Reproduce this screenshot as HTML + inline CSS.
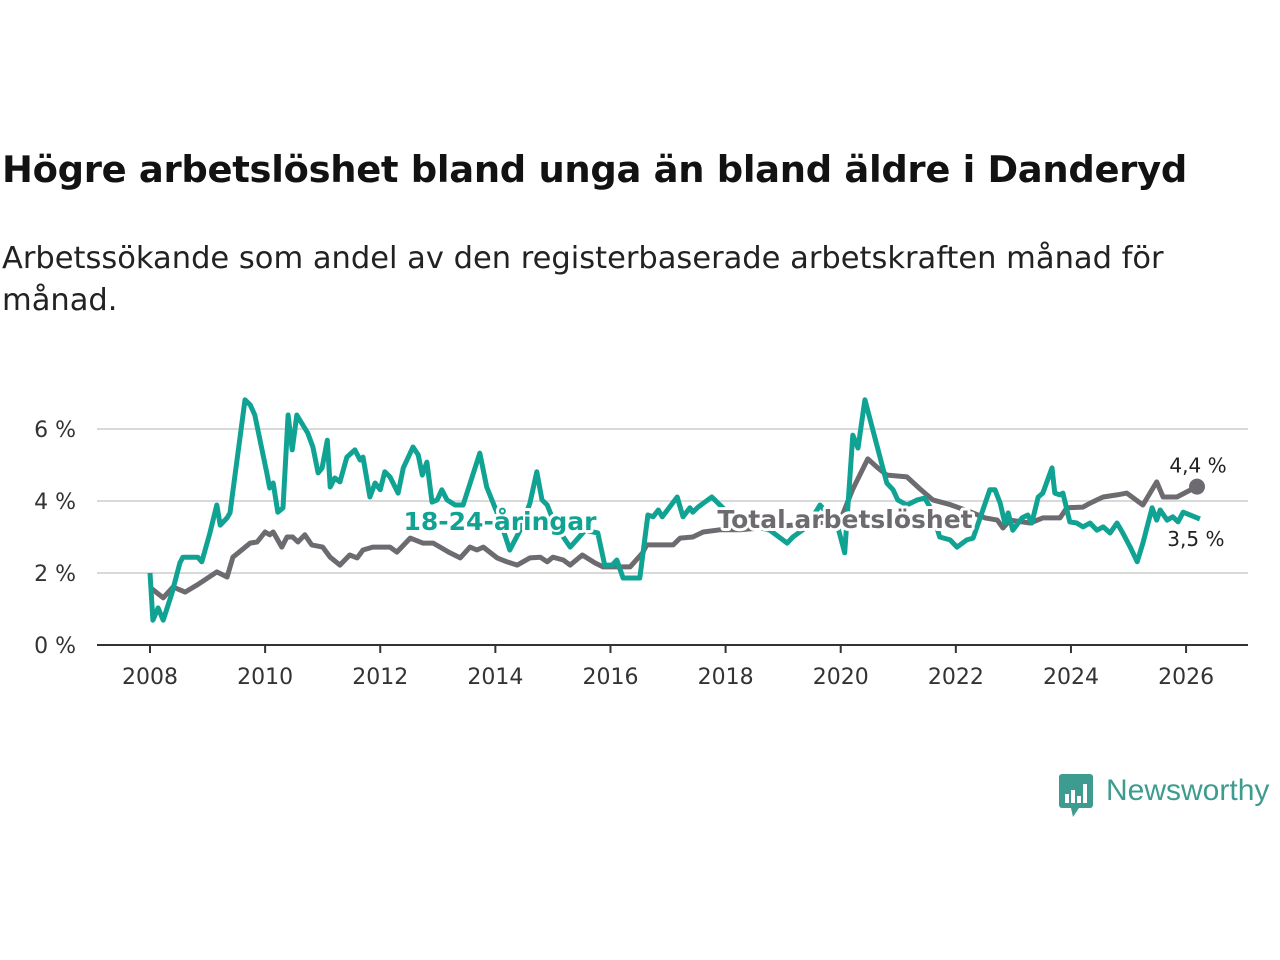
<!DOCTYPE html>
<html><head><meta charset="utf-8"><style>
body{margin:0;background:#fff;font-family:"Liberation Sans","DejaVu Sans",sans-serif;}
#wrap{position:relative;width:1280px;height:960px;overflow:hidden;}
h1{position:absolute;left:2px;top:148px;margin:0;font-size:36.9px;font-weight:bold;color:#121212;font-family:"DejaVu Sans",sans-serif;letter-spacing:-0.3px;}
.sub{position:absolute;left:2px;top:238px;margin:0;font-size:30.5px;line-height:42px;color:#222;font-family:"DejaVu Sans",sans-serif;width:1250px;}
svg text{font-family:"DejaVu Sans",sans-serif;}
</style></head><body><div id="wrap">
<h1>Högre arbetslöshet bland unga än bland äldre i Danderyd</h1>
<p class="sub">Arbetssökande som andel av den registerbaserade arbetskraften månad för<br>månad.</p>
<svg id="chart" width="1280" height="960" style="position:absolute;left:0;top:0"></svg>
<div style="position:absolute;left:1059px;top:774px;display:flex;align-items:center;">
<svg width="36" height="44"><rect x="0" y="0" width="34" height="34" rx="3" fill="#3d9c8f"/><polygon points="12,34 20,34 14,43" fill="#3d9c8f"/><rect x="6" y="20" width="4" height="9" fill="#fff"/><rect x="12" y="16" width="4" height="13" fill="#fff"/><rect x="18" y="22" width="4" height="7" fill="#fff"/><rect x="24" y="10" width="4" height="19" fill="#fff"/></svg>
<span style="font-size:30px;color:#3d9c8f;margin-left:11px;margin-top:-10px;">Newsworthy</span></div>
</div>
<script>
const yTicks=[0,2,4,6];
const yTickLabels=["0 %","2 %","4 %","6 %"];
const xTicks=[2008,2010,2012,2014,2016,2018,2020,2022,2024,2026];
const youthDates=[2008.0,2008.05,2008.14,2008.23,2008.38,2008.52,2008.57,2008.83,2008.9,2009.04,2009.16,2009.22,2009.34,2009.39,2009.65,2009.74,2009.82,2010.03,2010.08,2010.14,2010.22,2010.31,2010.4,2010.47,2010.55,2010.74,2010.83,2010.92,2010.99,2011.08,2011.13,2011.21,2011.3,2011.42,2011.56,2011.65,2011.7,2011.82,2011.91,2012.0,2012.08,2012.17,2012.31,2012.4,2012.57,2012.66,2012.73,2012.81,2012.9,2012.99,2013.07,2013.16,2013.3,2013.44,2013.73,2013.85,2013.94,2014.08,2014.25,2014.43,2014.6,2014.72,2014.81,2014.9,2015.04,2015.3,2015.56,2015.78,2015.9,2016.03,2016.11,2016.22,2016.51,2016.65,2016.74,2016.83,2016.9,2017.16,2017.26,2017.38,2017.43,2017.52,2017.76,2017.87,2018.08,2018.42,2018.77,2019.07,2019.17,2019.41,2019.64,2019.94,2020.07,2020.21,2020.3,2020.42,2020.8,2020.91,2020.99,2021.15,2021.33,2021.46,2021.58,2021.72,2021.9,2022.02,2022.19,2022.3,2022.51,2022.59,2022.68,2022.77,2022.85,2022.91,2022.99,2023.15,2023.25,2023.32,2023.43,2023.51,2023.67,2023.72,2023.81,2023.86,2023.98,2024.1,2024.21,2024.33,2024.45,2024.56,2024.68,2024.8,2024.9,2025.03,2025.15,2025.25,2025.41,2025.49,2025.55,2025.67,2025.77,2025.86,2025.95,2026.07,2026.24];
const youthValues=[2.0,0.69,1.03,0.69,1.44,2.28,2.44,2.44,2.31,3.11,3.89,3.33,3.53,3.67,6.81,6.67,6.39,4.78,4.36,4.5,3.69,3.81,6.39,5.42,6.39,5.89,5.5,4.78,4.92,5.69,4.39,4.64,4.53,5.22,5.42,5.14,5.22,4.11,4.5,4.31,4.81,4.67,4.22,4.92,5.5,5.28,4.72,5.08,3.97,4.03,4.31,4.03,3.89,3.89,5.33,4.39,4.03,3.47,2.64,3.19,3.94,4.81,4.03,3.89,3.33,2.72,3.19,3.11,2.22,2.22,2.36,1.86,1.86,3.61,3.56,3.75,3.56,4.11,3.56,3.81,3.69,3.83,4.11,3.94,3.61,3.33,3.19,2.83,3.0,3.28,3.89,3.33,2.56,5.83,5.47,6.81,4.5,4.31,4.03,3.89,4.03,4.08,3.75,3.0,2.92,2.72,2.92,2.97,3.94,4.31,4.31,3.94,3.39,3.67,3.19,3.53,3.61,3.39,4.11,4.22,4.92,4.22,4.17,4.22,3.42,3.39,3.28,3.39,3.19,3.28,3.11,3.39,3.11,2.72,2.31,2.83,3.81,3.47,3.75,3.47,3.56,3.42,3.69,3.61,3.5];
const totalDates=[2008.0,2008.23,2008.4,2008.61,2008.82,2009.16,2009.34,2009.44,2009.74,2009.86,2010.0,2010.08,2010.14,2010.29,2010.38,2010.48,2010.57,2010.69,2010.81,2011.0,2011.13,2011.3,2011.47,2011.6,2011.7,2011.87,2012.17,2012.29,2012.52,2012.74,2012.92,2013.21,2013.39,2013.56,2013.68,2013.79,2014.03,2014.2,2014.38,2014.6,2014.78,2014.9,2015.0,2015.18,2015.3,2015.51,2015.73,2015.87,2016.34,2016.56,2016.63,2017.09,2017.21,2017.43,2017.61,2017.9,2018.25,2018.6,2018.95,2019.3,2019.64,2019.99,2020.21,2020.47,2020.63,2020.8,2021.15,2021.38,2021.6,2021.9,2022.25,2022.51,2022.72,2022.82,2022.94,2023.29,2023.51,2023.81,2023.93,2024.21,2024.33,2024.45,2024.56,2024.8,2024.97,2025.25,2025.49,2025.6,2025.84,2026.19];
const totalValues=[1.6,1.31,1.61,1.47,1.67,2.03,1.89,2.44,2.83,2.86,3.14,3.06,3.14,2.72,3.0,3.0,2.86,3.06,2.78,2.72,2.44,2.22,2.5,2.42,2.64,2.72,2.72,2.58,2.97,2.83,2.83,2.56,2.42,2.72,2.64,2.72,2.42,2.31,2.22,2.42,2.44,2.31,2.44,2.36,2.22,2.5,2.28,2.17,2.17,2.56,2.78,2.78,2.97,3.0,3.14,3.2,3.2,3.25,3.3,3.35,3.4,3.45,4.33,5.17,4.94,4.72,4.67,4.33,4.03,3.9,3.7,3.53,3.47,3.25,3.47,3.39,3.53,3.53,3.81,3.83,3.94,4.03,4.11,4.17,4.22,3.89,4.53,4.11,4.11,4.4];
const youthLast="3,5 %", totalLast="4,4 %";

const svg=document.getElementById('chart');
const NS="http://www.w3.org/2000/svg";
const X=y=>150+(y-2008)*57.56;
const Y=v=>645-v*36;
function mk(tag,attrs){const e=document.createElementNS(NS,tag);for(const k in attrs)e.setAttribute(k,attrs[k]);svg.appendChild(e);return e;}
yTicks.forEach((t,i)=>{
  if(t>0){const g=mk('line',{x1:97,x2:1248,y1:Y(t),y2:Y(t),stroke:'#d9d9d9','stroke-width':2});
  
  }
  const tx=mk('text',{x:76,y:Y(t)+8,'text-anchor':'end','font-size':22,fill:'#333'});tx.textContent=yTickLabels[i];
  
  
});
const ax=mk('line',{x1:97,x2:1248,y1:645,y2:645,stroke:'#333','stroke-width':2});


xTicks.forEach(t=>{
  const tk=mk('line',{x1:X(t),x2:X(t),y1:645,y2:653,stroke:'#333','stroke-width':2});
  
  
  const tx=mk('text',{x:X(t),y:684,'text-anchor':'middle','font-size':22,fill:'#333'});tx.textContent=t;
  
  
});
function path(d,v){return d.map((x,i)=>(i?'L':'M')+X(x).toFixed(1)+','+Y(v[i]).toFixed(1)).join('');}
const tl=mk('path',{d:path(totalDates,totalValues),fill:'none',stroke:'#6d6b70','stroke-width':5,'stroke-linejoin':'round'});


const yl=mk('path',{d:path(youthDates,youthValues),fill:'none',stroke:'#10a393','stroke-width':5,'stroke-linejoin':'round'});


const n=totalDates.length-1;
const dot=mk('circle',{cx:X(totalDates[n]),cy:Y(totalValues[n]),r:8,fill:'#6d6b70'});


const l1=mk('text',{x:X(totalDates[n])+1,y:Y(totalValues[n])-14,'text-anchor':'middle','font-size':20,fill:'#222',stroke:'#fff','stroke-width':4,'paint-order':'stroke'});l1.textContent=totalLast;


const m=youthDates.length-1;
const l2=mk('text',{x:X(youthDates[m])-4,y:Y(youthValues[m])+27,'text-anchor':'middle','font-size':20,fill:'#222',stroke:'#fff','stroke-width':4,'paint-order':'stroke'});l2.textContent=youthLast;


const s1=mk('text',{x:500,y:530,'text-anchor':'middle','font-size':25,'font-weight':'bold',fill:'#10a393',stroke:'#fff','stroke-width':6,'paint-order':'stroke','stroke-linejoin':'round'});s1.textContent='18-24-åringar';


const s2=mk('text',{x:845,y:528,'text-anchor':'middle','font-size':25,'font-weight':'bold',fill:'#6d6b70',stroke:'#fff','stroke-width':6,'paint-order':'stroke','stroke-linejoin':'round'});s2.textContent='Total arbetslöshet';


</script>
</body></html>
